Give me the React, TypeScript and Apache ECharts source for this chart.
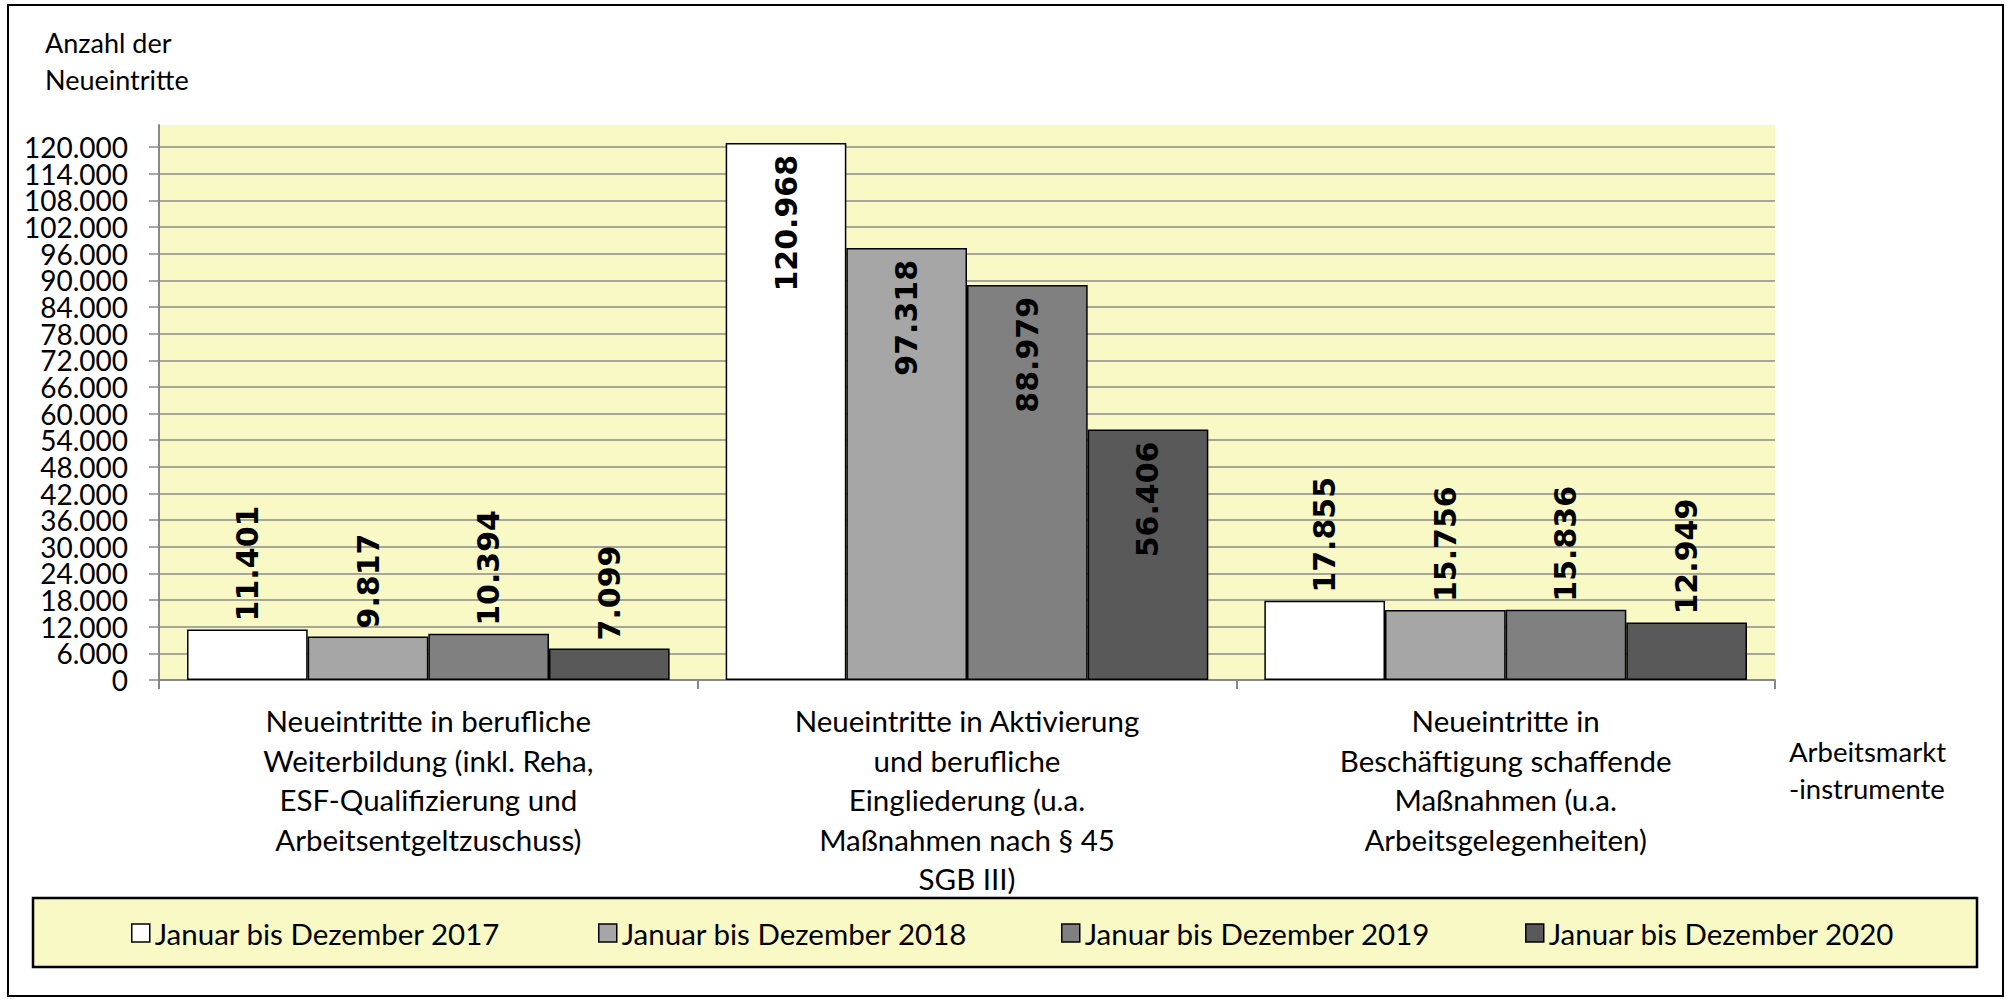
import React, { useEffect, useRef } from "react";
import * as echarts from "echarts";

const categories = [
  "Neueintritte in berufliche\nWeiterbildung (inkl. Reha,\nESF-Qualifizierung und\nArbeitsentgeltzuschuss)",
  "Neueintritte in Aktivierung\nund berufliche\nEingliederung (u.a.\nMaßnahmen nach § 45\nSGB III)",
  "Neueintritte in\nBeschäftigung schaffende\nMaßnahmen (u.a.\nArbeitsgelegenheiten)",
];

const seriesNames = [
  "Januar bis Dezember 2017",
  "Januar bis Dezember 2018",
  "Januar bis Dezember 2019",
  "Januar bis Dezember 2020",
];

const values2017 = [11401, 120968, 17855];
const values2018 = [9817, 97318, 15756];
const values2019 = [10394, 88979, 15836];
const values2020 = [7099, 56406, 12949];

const yTickValues = [
  0, 6000, 12000, 18000, 24000, 30000, 36000, 42000, 48000, 54000, 60000,
  66000, 72000, 78000, 84000, 90000, 96000, 102000, 108000, 114000, 120000,
];

const barColors = ["#ffffff", "#a6a6a6", "#808080", "#595959"];
const legendLefts = [131, 598, 1061, 1525];

const TEXT_FONT = "Lato";
const fmt = (v: number) => String(v).replace(/\B(?=(\d{3})+(?!\d))/g, ".");

export default function App() {
  const ref = useRef<HTMLDivElement>(null);

  useEffect(() => {
    if (!ref.current) return;
    const chart = echarts.init(ref.current, undefined, { renderer: "svg" });
    const allValues = [values2017, values2018, values2019, values2020];

    const labelBase = {
      show: true,
      rotate: 90,
      fontFamily: "DejaVu Sans",
      fontWeight: "bold" as const,
      fontSize: 30,
      color: "#000",
      formatter: (p: any) => fmt(p.value),
    };
    const insideLabel = { ...labelBase, position: "insideTop", align: "right", verticalAlign: "middle", distance: 12 };
    const topLabel = { ...labelBase, position: "top", align: "left", verticalAlign: "middle", distance: 8 };

    const series = allValues.map((vals, i) => ({
      name: seriesNames[i],
      type: "bar",
      yAxisIndex: 0,
      barGap: "0%",
      barCategoryGap: "10.4%",
      itemStyle: { color: barColors[i], borderColor: "#000", borderWidth: 1.5 },
      data: vals.map((v) => ({ value: v, label: v > 40000 ? insideLabel : topLabel })),
    }));

    const evenTicks = yTickValues.filter((_, i) => i % 2 === 0);
    const oddTicks = yTickValues.filter((_, i) => i % 2 === 1);

    const yLabel = (vals: number[]) => ({
      customValues: vals,
      showMinLabel: true,
      showMaxLabel: true,
      hideOverlap: false,
      margin: 31,
      fontFamily: TEXT_FONT,
      fontSize: 28,
      color: "#000",
      formatter: (v: number) => fmt(v),
    });

    chart.setOption({
      animation: false,
      backgroundColor: "#ffffff",
      grid: {
        left: 159,
        top: 125,
        width: 1616,
        height: 555,
        show: true,
        backgroundColor: "#f9f9c6",
        borderWidth: 0,
        containLabel: false,
      },
      xAxis: {
        type: "category",
        data: categories,
        axisLine: { show: true, lineStyle: { color: "#888", width: 2 } },
        axisTick: { show: true, length: 9, lineStyle: { color: "#888", width: 2 } },
        axisLabel: {
          interval: 0,
          margin: 21,
          fontFamily: TEXT_FONT,
          fontSize: 29.5,
          lineHeight: 39.5,
          color: "#000",
          align: "center",
        },
      },
      yAxis: [
        {
          type: "value",
          position: "left",
          min: 0,
          max: 125000,
          interval: 6000,
          axisLine: { show: true, lineStyle: { color: "#888", width: 2 } },
          axisTick: { show: true, length: 10, customValues: yTickValues, lineStyle: { color: "#888", width: 1.5 } },
          axisLabel: yLabel(evenTicks),
          splitLine: { show: true, lineStyle: { color: "#8a8a8a", width: 1.5 } },
        },
        {
          type: "value",
          position: "left",
          offset: 0,
          min: 0,
          max: 125000,
          interval: 6000,
          axisLine: { show: false },
          axisTick: { show: false },
          axisLabel: yLabel(oddTicks),
          splitLine: { show: false },
        },
      ],
      legend: seriesNames.map((n, i) => ({
        data: [n],
        left: legendLefts[i],
        top: 916,
        padding: 0,
        itemWidth: 18,
        itemHeight: 18,
        icon: "rect",
        selectedMode: false,
        itemStyle: { borderColor: "#000", borderWidth: 1.5 },
        textStyle: { fontFamily: TEXT_FONT, fontSize: 29.5, color: "#000", lineHeight: 34 },
      })),
      graphic: [
        {
          type: "rect",
          z: 0,
          shape: { x: 8, y: 5, width: 1995, height: 991 },
          style: { fill: "none", stroke: "#000", lineWidth: 2 },
          silent: true,
        },
        {
          type: "rect",
          z: 0,
          shape: { x: 33, y: 898, width: 1944, height: 69 },
          style: { fill: "#f9f9c6", stroke: "#000", lineWidth: 2.5 },
          silent: true,
        },
        {
          type: "text",
          x: 45,
          y: 42,
          style: { text: "Anzahl der", fontFamily: TEXT_FONT, fontSize: 27, fill: "#000", verticalAlign: "middle" },
        },
        {
          type: "text",
          x: 45,
          y: 79,
          style: { text: "Neueintritte", fontFamily: TEXT_FONT, fontSize: 27, fill: "#000", verticalAlign: "middle" },
        },
        {
          type: "text",
          x: 1789,
          y: 751,
          style: { text: "Arbeitsmarkt", fontFamily: TEXT_FONT, fontSize: 27.5, fill: "#000", verticalAlign: "middle" },
        },
        {
          type: "text",
          x: 1789,
          y: 788,
          style: { text: "-instrumente", fontFamily: TEXT_FONT, fontSize: 27.5, fill: "#000", verticalAlign: "middle" },
        },
      ],
      series,
    });

    return () => chart.dispose();
  }, []);

  return (
    <div
      ref={ref}
      style={{ position: "fixed", left: 0, top: 0, width: 2006, height: 999, background: "#fff" }}
    />
  );
}
